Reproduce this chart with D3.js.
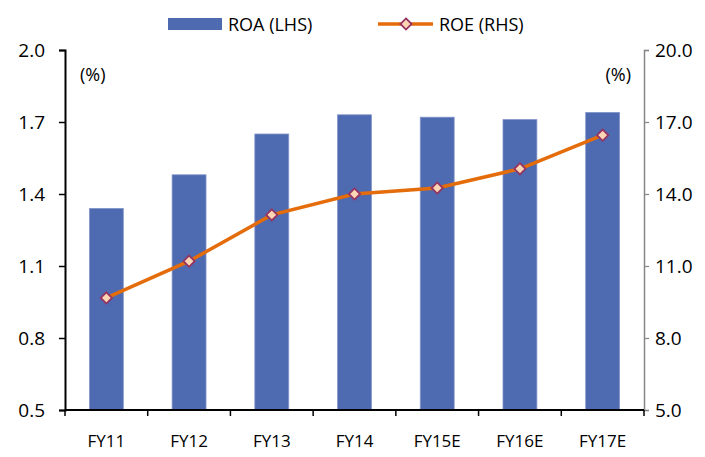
<!DOCTYPE html>
<html>
<head>
<meta charset="utf-8">
<script src="https://cdn.jsdelivr.net/npm/d3@7"></script>
<style>
  html, body { margin: 0; padding: 0; background: #fff; }
  text { font-family: "Open Sans", "Noto Sans", sans-serif; fill: #000; }
</style>
</head>
<body>
<svg id="chart" width="705" height="457"></svg>
<script>
// Fiscal years shown along the bottom
const categories = ["FY11", "FY12", "FY13", "FY14", "FY15E", "FY16E", "FY17E"];
// Return on assets (%), left axis
const roa = [1.34, 1.48, 1.65, 1.73, 1.72, 1.71, 1.74];
// Return on equity (%), right axis
const roe = [9.67, 11.2, 13.13, 14.0, 14.25, 15.05, 16.45];
// Axis tick labels
const leftTicks = [0.5, 0.8, 1.1, 1.4, 1.7, 2.0];
const rightTicks = [5, 8, 11, 14, 17, 20];

const svg = d3.select("#chart");
const m = { left: 65, right: 644, top: 50, bottom: 410 };

const x = d3.scaleBand().domain(categories).range([m.left, m.right]).paddingInner(0.59).paddingOuter(0.295);
const xBound = d3.scaleBand().domain(categories).range([m.left, m.right]);
const yL = d3.scaleLinear().domain([0.5, 2.0]).range([m.bottom, m.top]);
const yR = d3.scaleLinear().domain([5, 20]).range([m.bottom, m.top]);

const barColor = "#4E6AB0";
const lineColor = "#E46C0A";

// Bars
svg.append("g").selectAll("rect").data(roa).join("rect")
  .attr("x", (d, i) => x(categories[i]))
  .attr("y", d => yL(d))
  .attr("width", x.bandwidth())
  .attr("height", d => m.bottom - yL(d))
  .attr("fill", barColor)
  .attr("stroke", "#8497CB")
  .attr("stroke-width", 0.8);

// Left axis
const gL = svg.append("g").attr("transform", `translate(${m.left},0)`)
  .call(d3.axisLeft(yL).tickValues(leftTicks).tickFormat(d3.format(".1f")).tickSizeOuter(0).tickSize(6).tickPadding(14));
gL.select(".domain").attr("stroke", "#000").attr("stroke-width", 2);
gL.selectAll(".tick line").attr("stroke", "#000").attr("stroke-width", 1.5);
gL.selectAll("text").style("font-size", "19px");

// Right axis
const gR = svg.append("g").attr("transform", `translate(${m.right},0)`)
  .call(d3.axisRight(yR).tickValues(rightTicks).tickFormat(d3.format(".1f")).tickSizeOuter(0).tickSize(5).tickPadding(6));
gR.select(".domain").attr("stroke", "#868686").attr("stroke-width", 1.5);
gR.selectAll(".tick line").attr("stroke", "#868686").attr("stroke-width", 1.2);
gR.selectAll("text").style("font-size", "19px");

// Bottom axis: ticks at category boundaries
const gB = svg.append("g").attr("transform", `translate(0,${m.bottom})`);
gB.append("line").attr("x1", m.left).attr("x2", m.right).attr("stroke", "#000").attr("stroke-width", 2);
const bounds = categories.map(c => xBound(c)).concat([m.right]);
gB.selectAll("line.tk").data(bounds).join("line").attr("class", "tk")
  .attr("x1", d => d).attr("x2", d => d).attr("y1", 0).attr("y2", 6)
  .attr("stroke", "#000").attr("stroke-width", 1.5);
gB.selectAll("text").data(categories).join("text")
  .attr("x", d => xBound(d) + xBound.bandwidth() / 2)
  .attr("y", 37)
  .attr("text-anchor", "middle")
  .style("font-size", "17px")
  .text(d => d);

// ROE line
const cx = (d, i) => x(categories[i]) + x.bandwidth() / 2;
svg.append("path").datum(roe)
  .attr("d", d3.line().x(cx).y(d => yR(d)))
  .attr("fill", "none").attr("stroke", lineColor).attr("stroke-width", 3.5);

const diamond = d3.symbol().type(d3.symbolDiamond2).size(80);
svg.append("g").selectAll("path").data(roe).join("path")
  .attr("transform", (d, i) => `translate(${cx(d, i)},${yR(d)})`)
  .attr("d", diamond)
  .attr("fill", "#FCD5B5").attr("stroke", "#953462").attr("stroke-width", 1.8);

// Unit labels
svg.append("text").attr("x", 80).attr("y", 81).style("font-size", "18px").text("(%)");
svg.append("text").attr("x", 631).attr("y", 81).attr("text-anchor", "end").style("font-size", "18px").text("(%)");

// Legend
const lg = svg.append("g");
lg.append("rect").attr("x", 168).attr("y", 18).attr("width", 54).attr("height", 12).attr("fill", barColor);
lg.append("text").attr("x", 228).attr("y", 31).style("font-size", "18px").text("ROA (LHS)");
lg.append("line").attr("x1", 378).attr("x2", 433).attr("y1", 24).attr("y2", 24).attr("stroke", lineColor).attr("stroke-width", 3.5);
lg.append("path").attr("transform", "translate(406,24)").attr("d", diamond)
  .attr("fill", "#FCD5B5").attr("stroke", "#953462").attr("stroke-width", 1.8);
lg.append("text").attr("x", 439).attr("y", 31).style("font-size", "18px").text("ROE (RHS)");
</script>
</body>
</html>
